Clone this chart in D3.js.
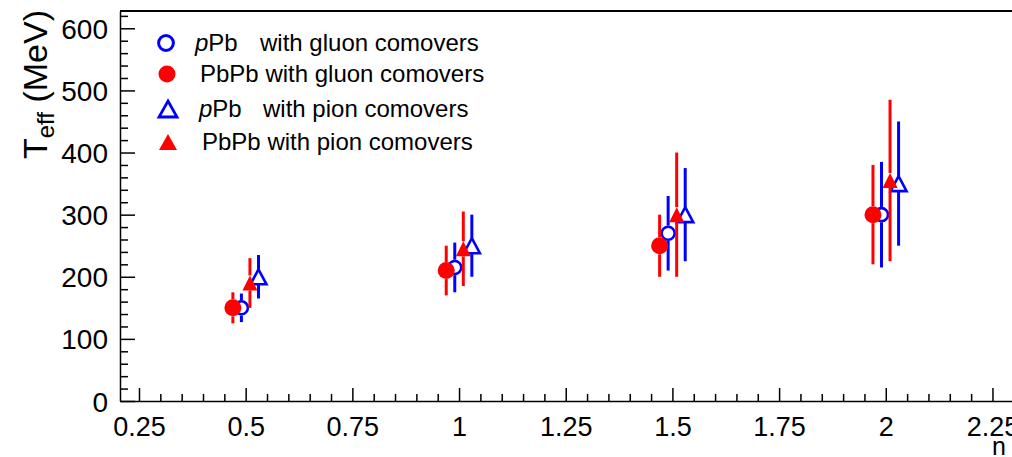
<!DOCTYPE html>
<html><head><meta charset="utf-8">
<script src="https://cdn.jsdelivr.net/npm/d3@7"></script>
<style>body{margin:0;background:#fff} text{font-family:"Liberation Sans",Arial,Helvetica,sans-serif}</style>
</head><body><svg id="c" width="1012" height="457"></svg>
<script>
// ---- data ----
const xTickValues = [0.25, 0.5, 0.75, 1, 1.25, 1.5, 1.75, 2, 2.25];
const xTickLabels = ["0.25", "0.5", "0.75", "1", "1.25", "1.5", "1.75", "2", "2.25"];
const yTickValues = [0, 100, 200, 300, 400, 500, 600];

const pPbGluonN = [0.49, 0.99, 1.49, 1.99];
const pPbGluonT = [150, 215, 270, 300];
const pPbGluonE = [23, 40, 60, 85];

const PbPbGluonN = [0.47, 0.97, 1.47, 1.97];
const PbPbGluonT = [150, 210, 250, 300];
const PbPbGluonE = [25, 40, 50, 80];

const pPbPionN = [0.53, 1.03, 1.53, 2.03];
const pPbPionT = [200, 250, 300, 350];
const pPbPionE = [35, 50, 75, 100];

const PbPbPionN = [0.51, 1.01, 1.51, 2.01];
const PbPbPionT = [190, 245, 300, 355];
const PbPbPionE = [40, 60, 100, 130];

const legendLabels = [
  ["p", "Pb", "with gluon comovers"],
  ["", "PbPb", "with gluon comovers"],
  ["p", "Pb", "with pion comovers"],
  ["", "PbPb", "with pion comovers"]
];

// ---- layout ----
const svg = d3.select("#c");
const X0 = 120, X1 = 1013.8, Y0 = 401, Y1 = 10.9;
const x = d3.scaleLinear().domain([0.2055, 2.3]).range([X0, X1]);
const y = d3.scaleLinear().domain([0, 628]).range([Y0, Y1]);

const BLUE = "#0000ff", RED = "#ff0000";

// frame top
svg.append("line").attr("x1", X0).attr("x2", 1012).attr("y1", Y1).attr("y2", Y1)
  .attr("stroke", "#000").attr("stroke-width", 2);

// minor ticks
const xMinor = d3.range(0.25, 2.3, 0.05).filter(v => Math.abs(v / 0.25 - Math.round(v / 0.25)) > 1e-6);
svg.append("g").attr("transform", `translate(0,${Y0})`)
  .call(d3.axisBottom(x).tickValues(xMinor).tickSizeInner(-7).tickSizeOuter(0).tickFormat(""))
  .call(g => g.select(".domain").remove())
  .selectAll("line").attr("stroke-width", 1.5);
const yMinor = d3.range(0, 628, 20).filter(v => v % 100 !== 0);
svg.append("g").attr("transform", `translate(${X0},0)`)
  .call(d3.axisLeft(y).tickValues(yMinor).tickSizeInner(-8).tickSizeOuter(0).tickFormat(""))
  .call(g => g.select(".domain").remove())
  .selectAll("line").attr("stroke-width", 1.5);

// x axis
const gx = svg.append("g").attr("transform", `translate(0,${Y0})`)
  .call(d3.axisBottom(x).tickValues(xTickValues).tickSizeInner(-13).tickSizeOuter(0)
    .tickFormat((d, i) => xTickLabels[i]));
gx.select(".domain").attr("stroke-width", 1.5);
gx.selectAll("line").attr("stroke-width", 1.5);
gx.selectAll("text").attr("y", 35).attr("dy", 0).attr("font-size", 27)
  .attr("font-family", "'Liberation Sans',Arial,sans-serif").attr("fill", "#000");

// y axis
const gy = svg.append("g").attr("transform", `translate(${X0},0)`)
  .call(d3.axisLeft(y).tickValues(yTickValues).tickSizeInner(-15).tickSizeOuter(0).tickPadding(12));
gy.select(".domain").attr("stroke-width", 1.5);
gy.selectAll("line").attr("stroke-width", 1.5);
gy.selectAll("text").attr("font-size", 28).attr("dy", "0.36em")
  .attr("font-family", "'Liberation Sans',Arial,sans-serif").attr("fill", "#000");

// axis titles
const yt = svg.append("text").attr("transform", "translate(47,10) rotate(-90)")
  .attr("text-anchor", "end").attr("font-size", 34).attr("fill", "#000");
yt.append("tspan").text("T");
yt.append("tspan").attr("font-size", 24).attr("dy", 7).text("eff");
yt.append("tspan").attr("dy", -7).text(" (MeV)");

svg.append("text").attr("x", 1006).attr("y", 455).attr("text-anchor", "end")
  .attr("font-size", 25).attr("fill", "#000").text("n");

// ---- markers ----
const CR = 6.5, FR = 8.5, TW = 16, TH = 15;
function triPath(cx, cy, w, h) {
  return `M${cx},${cy - h / 2}L${cx + w / 2},${cy + h / 2}L${cx - w / 2},${cy + h / 2}Z`;
}

function drawSeries(N, T, E, color, kind, filled) {
  const g = svg.append("g");
  const gap = kind === "circle" ? (filled ? FR : CR + 1.2) : TH / 2;
  N.forEach((n, i) => {
    const cx = x(n), cy = y(T[i]);
    const top = y(T[i] + E[i]), bot = y(T[i] - E[i]);
    g.append("line").attr("x1", cx).attr("x2", cx).attr("y1", top).attr("y2", cy - gap)
      .attr("stroke", color).attr("stroke-width", 3);
    g.append("line").attr("x1", cx).attr("x2", cx).attr("y1", cy + gap).attr("y2", bot)
      .attr("stroke", color).attr("stroke-width", 3);
    if (kind === "circle") {
      g.append("circle").attr("cx", cx).attr("cy", cy).attr("r", filled ? FR : CR)
        .attr("fill", filled ? color : "none").attr("stroke", filled ? "none" : color)
        .attr("stroke-width", 2.6);
    } else {
      g.append("path").attr("d", triPath(cx, cy, filled ? TW - 1 : TW, TH))
        .attr("fill", filled ? color : "none").attr("stroke", filled ? "none" : color)
        .attr("stroke-width", 2.6).attr("stroke-linejoin", "miter");
    }
  });
}

drawSeries(pPbGluonN, pPbGluonT, pPbGluonE, BLUE, "circle", false);
drawSeries(PbPbGluonN, PbPbGluonT, PbPbGluonE, RED, "circle", true);
drawSeries(pPbPionN, pPbPionT, pPbPionE, BLUE, "tri", false);
drawSeries(PbPbPionN, PbPbPionT, PbPbPionE, RED, "tri", true);

// ---- legend ----
const legRows = [43, 74, 109, 142];
const legMarkX = [166, 167, 168, 168];
const legTextX = [195, 200, 199, 202];
const legWithX = [260, null, 263, null];
const legStyle = [["circle", false, BLUE], ["circle", true, RED], ["tri", false, BLUE], ["tri", true, RED]];
const lg = svg.append("g");
legendLabels.forEach((lab, i) => {
  const cy = legRows[i], mx = legMarkX[i];
  const [kind, filled, color] = legStyle[i];
  if (kind === "circle") {
    lg.append("circle").attr("cx", mx).attr("cy", cy).attr("r", filled ? 8.5 : 7.4)
      .attr("fill", filled ? color : "none").attr("stroke", filled ? "none" : color).attr("stroke-width", 3);
  } else {
    lg.append("path").attr("d", triPath(mx, cy, 18, 16))
      .attr("fill", filled ? color : "none").attr("stroke", filled ? "none" : color).attr("stroke-width", 2.8);
  }
  const t = lg.append("text").attr("x", legTextX[i]).attr("y", cy + 8).attr("font-size", 24).attr("fill", "#000");
  if (lab[0]) {
    t.append("tspan").attr("font-style", "italic").text(lab[0]);
    t.append("tspan").text(lab[1]);
    t.append("tspan").attr("x", legWithX[i]).text(lab[2]);
  } else {
    t.append("tspan").text(lab[1] + " " + lab[2]);
  }
});
</script>
</body></html>
